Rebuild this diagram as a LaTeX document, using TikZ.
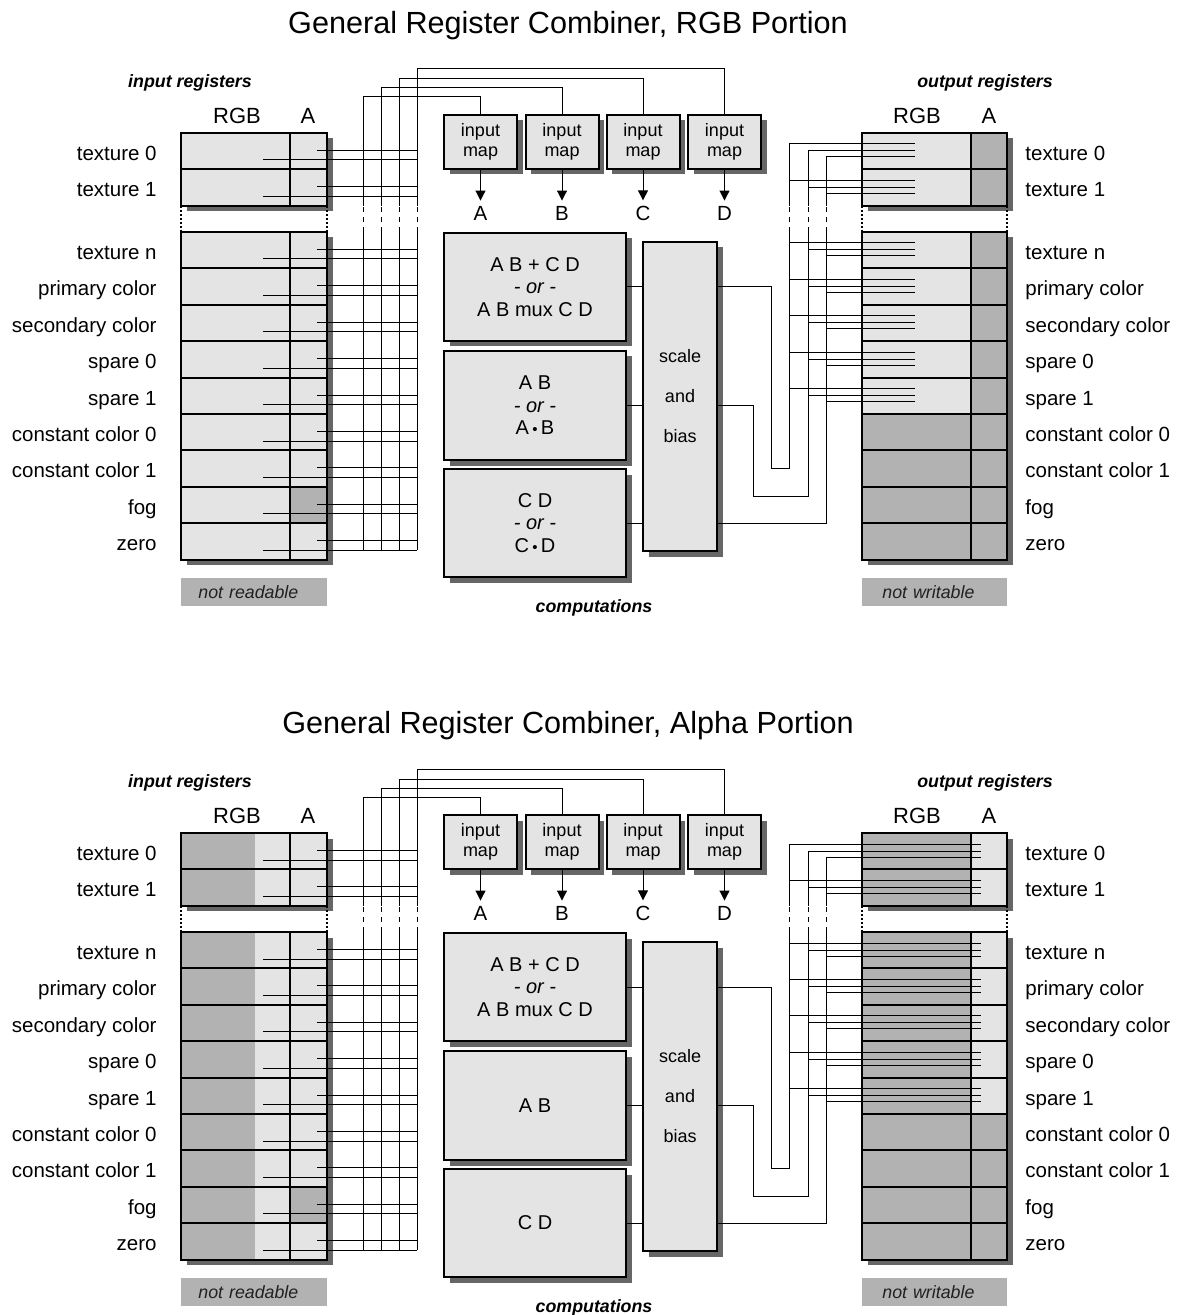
\documentclass[tikz,border=0pt]{standalone}
\usepackage{fontspec}
\setmainfont{Liberation Sans}
\usetikzlibrary{arrows.meta,shadows}
\definecolor{lightg}{gray}{0.894}
\definecolor{darkg}{gray}{0.70}
\definecolor{shadowg}{gray}{0.40}
\definecolor{txtg}{gray}{0.13}

\tikzset{
  wire/.style={line width=0.5pt},
  regline/.style={line width=1pt},
  gapdots/.style={line width=1pt, dash pattern=on 1pt off 1pt},
  busgap/.style={line width=0.5pt, dash pattern=on 2.5pt off 2.5pt},
  lab/.style={font=\fontsize{10.25}{12}\selectfont, inner sep=0pt},
  head/.style={font=\fontsize{11}{13}\selectfont, inner sep=0pt},
  sect/.style={font=\fontsize{8.9}{10}\selectfont\bfseries\itshape, inner sep=0pt},
  ttl/.style={font=\fontsize{15.3}{18}\selectfont, inner sep=0pt},
  shd/.style={drop shadow={shadow xshift=2.75pt, shadow yshift=-2.75pt, fill=shadowg, opacity=1}},
  mapbox/.style={draw, regline, fill=lightg, shd, minimum width=36.5pt, minimum height=27pt, inner sep=0pt, align=center, font=\fontsize{9}{10}\selectfont},
  compbox/.style={draw, regline, fill=lightg, shd, minimum width=91pt, inner sep=0pt, align=center, font=\fontsize{10}{11.3}\selectfont},
  sbbox/.style={draw, regline, fill=lightg, shd, minimum width=37pt, minimum height=154.5pt, inner sep=0pt, align=center, font=\fontsize{9}{20}\selectfont},
  note/.style={fill=darkg, minimum height=14pt, inner ysep=0pt, align=left, font=\fontsize{8.9}{10}\selectfont\itshape, text=txtg},
  tip/.style={-{Triangle[length=5pt,width=5pt]}}
}

\newcommand\mydot{\,{\fontsize{7.5}{7.5}\selectfont•}\,}

% #1 prefix, #2 mode (0 = RGB, 1 = Alpha), #3 text of box 2, #4 text of box 3
\newcommand\halfpic[4]{%
  \node[ttl] (#1title) at (568,26) {General Register Combiner, \ifnum#2=0 RGB\else Alpha\fi{} Portion};
  \node[sect] (#1inh) at (190,83) {input registers};
  \node[sect] (#1outh) at (985,83) {output registers};
  \node[head] (#1inrgb) at (237,116) {RGB};
  \node[head] (#1ina) at (308,116) {A};
  \node[head] (#1outrgb) at (917,116) {RGB};
  \node[head] (#1outa) at (989,116) {A};
  % shadows of register groups
  \fill[shadowg] (186.5,138.5) rectangle (332.5,211.3);
  \fill[shadowg] (186.5,237.5) rectangle (332.5,565.1);
  \fill[shadowg] (867.5,138.5) rectangle (1012.5,211.3);
  \fill[shadowg] (867.5,237.5) rectangle (1012.5,565.1);
  % register rows
  \foreach \i/\t in {0/texture 0,1/texture 1,2/texture n,3/primary color,4/secondary color,5/spare 0,6/spare 1,7/constant color 0,8/constant color 1,9/fog,10/zero}{
    \pgfmathsetmacro\yt{\i<2 ? 133+36.4*\i : 232+36.4*(\i-2)}
    \pgfmathsetmacro\yb{\yt+36.4}
    \pgfmathsetmacro\ym{\yt+18.2}
    % input cells
    \ifnum#2=0
      \fill[lightg] (181,\yt) rectangle (290,\yb);
    \else
      \fill[darkg] (181,\yt) rectangle (255,\yb);
      \fill[lightg] (255,\yt) rectangle (290,\yb);
    \fi
    \ifnum\i=9 \fill[darkg] (290,\yt) rectangle (327,\yb);
    \else \fill[lightg] (290,\yt) rectangle (327,\yb);
    \fi
    \draw[regline] (181,\yt) rectangle (327,\yb);
    \draw[regline] (290,\yt) -- (290,\yb);
    % output cells
    \ifnum\i<7
      \ifnum#2=0
        \fill[lightg] (862,\yt) rectangle (971,\yb);
        \fill[darkg] (971,\yt) rectangle (1007,\yb);
      \else
        \fill[darkg] (862,\yt) rectangle (971,\yb);
        \fill[lightg] (971,\yt) rectangle (1007,\yb);
      \fi
    \else
      \fill[darkg] (862,\yt) rectangle (1007,\yb);
    \fi
    \draw[regline] (862,\yt) rectangle (1007,\yb);
    \draw[regline] (971,\yt) -- (971,\yb);
    % labels
    \node[lab, anchor=base east] (#1l\i) at (157,\ym+9.3) {\t};
    \node[lab, anchor=base west] (#1r\i) at (1025,\ym+9.3) {\t};
    % input wires
    \draw[wire] (317,\yt+17.5) -- (417,\yt+17.5);
    \draw[wire] (263,\yt+27) -- (417,\yt+27);
    % output wires
    \ifnum\i<7
      \ifnum#2=0 \def\xe{915}\else \def\xe{981}\fi
      \draw[wire] (789,\yt+11) -- (\xe,\yt+11);
      \draw[wire] (808,\yt+18) -- (\xe,\yt+18);
      \draw[wire] (826,\yt+24) -- (\xe,\yt+24);
    \fi
  }
  % dotted gap edges
  \foreach \x in {181,327,862,1007}{
    \draw[gapdots] (\x,205.8) -- (\x,232);
  }
  % input maps and input bus
  \foreach \nm/\x/\top/\lx in {A/363/97/480.5,B/381/88/562,C/399/79/643,D/417/69/724.5}{
    \node[mapbox] (#1im\nm) at (\lx,142) {input\\map};
    \node[lab, inner sep=2.5pt] (#1lab\nm) at (\lx,213) {\nm};
    \coordinate (#1b\nm) at (\x,\top);
    \coordinate (#1g\nm) at (\x,205.8);
    \coordinate (#1h\nm) at (\x,232);
    \coordinate (#1e\nm) at (\x,550.2);
    \draw[wire] (#1e\nm) -- (#1h\nm);
    \draw[busgap] (#1h\nm) -- (#1g\nm);
    \draw[wire] (#1g\nm) -- (#1b\nm) -| (#1im\nm.north);
    \draw[wire, tip] (#1im\nm.south) -- (#1lab\nm.north);
  }
  % computations
  \node[compbox, minimum height=54pt] (#1c1) at (535,287) {A B + C D\\\textit{- or -}\\A B mux C D};
  \node[compbox, minimum height=54.5pt] (#1c2) at (535,405.5) {#3};
  \node[compbox, minimum height=54pt] (#1c3) at (535,523) {#4};
  \node[sbbox] (#1sb) at (680,396.5) {scale\\and\\bias};
  \foreach \k in {1,2,3}{
    \draw[wire] (#1c\k.east) -- (#1c\k.east -| #1sb.west);
  }
  % output bus
  \coordinate (#1oA) at (789,144);
  \coordinate (#1oB) at (808,151);
  \coordinate (#1oC) at (826,157);
  \coordinate (#1pA) at (789,232);
  \coordinate (#1pB) at (808,232);
  \coordinate (#1pC) at (826,232);
  \coordinate (#1qA) at (789,205.8);
  \coordinate (#1qB) at (808,205.8);
  \coordinate (#1qC) at (826,205.8);
  \draw[wire] (#1sb.east |- #1c1.east) -| (771,468) -| (#1pA);
  \draw[wire] (#1sb.east |- #1c2.east) -| (753,496) -| (#1pB);
  \draw[wire] (#1sb.east |- #1c3.east) -| (#1pC);
  \foreach \nm in {A,B,C}{
    \draw[busgap] (#1p\nm) -- (#1q\nm);
    \draw[wire] (#1q\nm) -- (#1o\nm);
  }
  % notes
  \node[note, anchor=north west, text width=56pt, inner xsep=8.5pt] (#1nr) at (181,578) {not readable};
  \node[note, anchor=north west, text width=52.5pt, inner xsep=10pt] (#1nw) at (862,578) {not writable};
  \node[sect] (#1comp) at (594,608) {computations};
}

\begin{document}
\begin{tikzpicture}[x=0.5pt,y=-0.5pt]
  \fill[white] (0,0) rectangle (1179,1315);
  \useasboundingbox (0,0) rectangle (1179,1315);
  \halfpic{t}{0}{A B\\\textit{- or -}\\A\mydot B}{C D\\\textit{- or -}\\C\mydot D}
  \begin{scope}[yshift=-350pt]
    \halfpic{b}{1}{A B}{C D}
  \end{scope}
\end{tikzpicture}
\end{document}
